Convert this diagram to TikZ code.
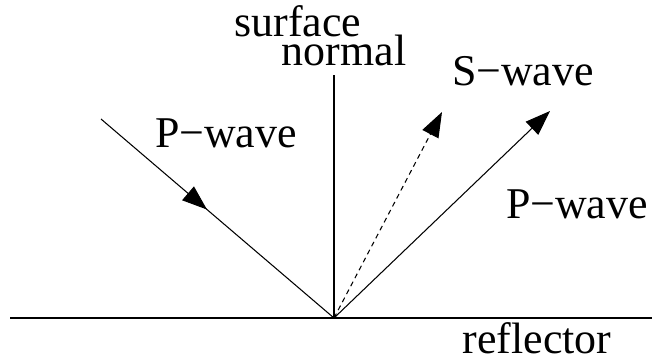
\documentclass[tikz,border=0pt]{standalone}
\usepackage{fontspec}
\setmainfont{Liberation Serif}
\usepackage{tikz}
\usetikzlibrary{positioning}
\usetikzlibrary{decorations.markings,arrows.meta}
\tikzset{
	ray/.style = {line width=0.6pt, -{Triangle[length=0.5cm,width=0.36cm]}},
	midray/.style = {line width=0.6pt, decoration={markings,
	 mark=at position 0.455 with {\arrow{Triangle[length=0.5cm,width=0.36cm]}}},
	 postaction={decorate}},
	lbl/.style = {anchor=base, inner sep=0pt, font=\fontsize{25}{30}\selectfont},
}

\begin{document}
\begin{tikzpicture}[x=0.02cm, y=-0.02cm]
	\useasboundingbox (0,0) rectangle (652,360);
	\coordinate (o) at (334,318);
	\coordinate (left) at (10,318);
	\coordinate (right) at (652,318);
	\coordinate (top) at (334,75);
	\coordinate (src) at (101,119);
	\coordinate (stip) at (442,112);
	\coordinate (ptip) at (550,111);
	% reflector and normal
	\draw[line width=0.6pt] (left) -- (right);
	\draw[line width=0.6pt] (o) -- (top);
	% rays
	\draw[midray] (src) -- (o);
	\draw[ray, dash pattern=on 0.1cm off 0.08cm] (o) -- (stip);
	\draw[ray] (o) -- (ptip);
	% labels
	\node (surf) [lbl] at (298,36) {surface};
	\node (norm) [lbl] at (344,65) {normal};
	\node (swave) [lbl] at (523,85) {S−wave};
	\node (pin) [lbl] at (226,147) {P−wave};
	\node (pout) [lbl] at (577,218) {P−wave};
	\node (refl) [lbl] at (537,353) {reflector};
\end{tikzpicture}
\end{document}
